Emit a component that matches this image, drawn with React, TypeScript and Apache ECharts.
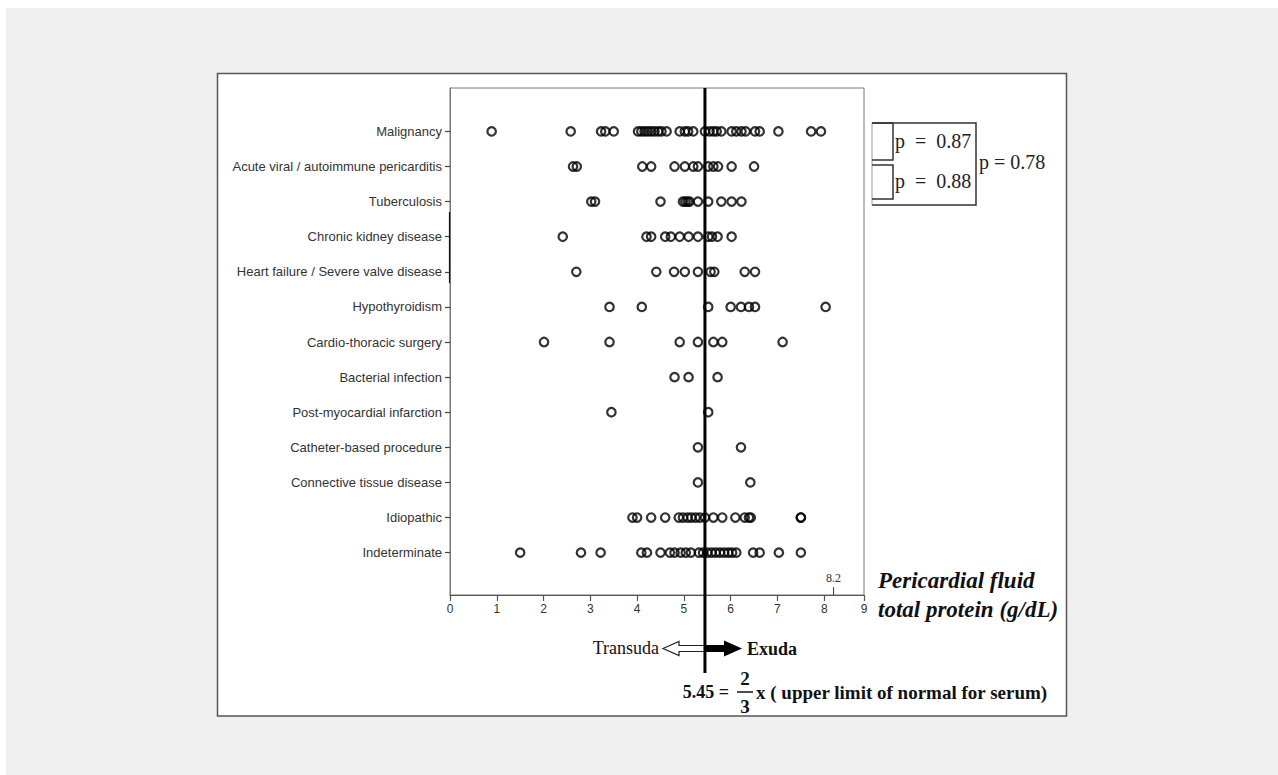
import React, { useEffect, useRef } from "react";
import * as echarts from "echarts";

const categories = [
  "Malignancy",
  "Acute viral / autoimmune pericarditis",
  "Tuberculosis",
  "Chronic kidney disease",
  "Heart failure / Severe valve disease",
  "Hypothyroidism",
  "Cardio-thoracic surgery",
  "Bacterial infection",
  "Post-myocardial infarction",
  "Catheter-based procedure",
  "Connective tissue disease",
  "Idiopathic",
  "Indeterminate",
];

const malignancy = [0.89, 2.58, 3.23, 3.32, 3.5, 4.02, 4.09, 4.16, 4.23, 4.3, 4.37, 4.45, 4.52, 4.63, 4.91, 5.02, 5.09, 5.2, 5.45, 5.55, 5.63, 5.7, 5.8, 6.02, 6.12, 6.23, 6.32, 6.52, 6.62, 7.02, 7.72, 7.93];
const acuteViral = [2.63, 2.71, 4.11, 4.3, 4.8, 5.02, 5.2, 5.3, 5.52, 5.63, 5.73, 6.02, 6.5];
const tuberculosis = [3.02, 3.1, 4.5, 4.98, 5.03, 5.08, 5.12, 5.3, 5.52, 5.8, 6.02, 6.23];
const chronicKidney = [2.41, 4.2, 4.3, 4.6, 4.72, 4.91, 5.1, 5.3, 5.52, 5.6, 5.72, 6.02];
const heartFailure = [2.7, 4.41, 4.79, 5.02, 5.3, 5.57, 5.65, 6.3, 6.52];
const hypothyroidism = [3.41, 4.1, 5.52, 6.0, 6.22, 6.39, 6.52, 8.03];
const cardioThoracic = [2.01, 3.41, 4.91, 5.3, 5.63, 5.82, 7.11];
const bacterial = [4.8, 5.1, 5.72];
const postMI = [3.45, 5.52];
const catheter = [5.3, 6.22];
const connective = [5.3, 6.42];
const idiopathic = [3.9, 4.0, 4.3, 4.6, 4.89, 4.98, 5.08, 5.16, 5.25, 5.34, 5.45, 5.63, 5.82, 6.1, 6.3, 6.39, 6.43, 7.5, 7.5];
const indeterminate = [1.5, 2.8, 3.22, 4.09, 4.21, 4.5, 4.7, 4.8, 4.93, 5.04, 5.15, 5.32, 5.41, 5.5, 5.59, 5.68, 5.77, 5.86, 5.95, 6.03, 6.12, 6.48, 6.62, 7.03, 7.5];

const seriesValues = [
  malignancy, acuteViral, tuberculosis, chronicKidney, heartFailure, hypothyroidism,
  cardioThoracic, bacterial, postMI, catheter, connective, idiopathic, indeterminate,
];

const xTickValues = [0, 1, 2, 3, 4, 5, 6, 7, 8, 8.85];
const xTickLabels = ["0", "1", "2", "3", "4", "5", "6", "7", "8", "9"];
const cutoff = 5.45;
const markValue = 8.2;
const pValues = ["p  =  0.87", "p  =  0.88", "p = 0.78"];

const SERIF = "'Liberation Serif', 'Times New Roman', serif";
const SANS = "'Liberation Sans', Arial, sans-serif";

export default function App() {
  const ref = useRef<HTMLDivElement>(null);
  useEffect(() => {
    const chart = echarts.init(ref.current!, null, { renderer: "svg" });
    const rowIdx = categories.map((_, i) => i);
    const data: number[][] = [];
    seriesValues.forEach((vals, i) => vals.forEach((v) => data.push([v, i])));

    chart.setOption({
      animation: false,
      backgroundColor: "#ffffff",
      textStyle: { color: "#333", fontFamily: SANS },
      grid: {
        left: 450, top: 88, right: 1278 - 864, bottom: 775 - 595,
        show: true, borderColor: "#777", borderWidth: 1, backgroundColor: "#fff",
      },
      xAxis: {
        type: "value", min: 0, max: 8.85, interval: 1,
        axisLine: { onZero: false, lineStyle: { color: "#555", width: 1.2 } },
        axisTick: { show: true, length: 6, customValues: xTickValues, lineStyle: { color: "#555", width: 1.2 } },
        axisLabel: {
          customValues: xTickValues, margin: 8, fontSize: 12, color: "#333", fontFamily: SANS,
          formatter: (v: number) => xTickLabels[xTickValues.indexOf(v)] ?? String(v),
        },
        splitLine: { show: false },
      },
      yAxis: {
        type: "value", inverse: true, min: -1.237, max: 13.207,
        axisLine: { show: true, onZero: false, lineStyle: { color: "#777", width: 1 } },
        axisTick: { show: true, length: 5, customValues: rowIdx, lineStyle: { color: "#444", width: 1.2 } },
        axisLabel: {
          customValues: rowIdx, margin: 8, fontSize: 13, color: "#333", fontFamily: SANS,
          formatter: (v: number) => categories[Math.round(v)] ?? "",
        },
        splitLine: { show: false },
      },
      series: [
        {
          type: "scatter",
          data,
          symbol: "circle",
          symbolSize: 8.5,
          itemStyle: { color: "rgba(0,0,0,0)", borderColor: "#000", borderWidth: 2.2 },
          z: 3,
        },
      ],
    });

    const px = (v: number) => chart.convertToPixel({ gridIndex: 0 }, [v, 0])[0];
    const xc = px(cutoff);
    const xm = px(markValue);
    const cy = 648.5;

    chart.setOption({
      graphic: [
        { type: "rect", z: -20, shape: { x: 6, y: 8, width: 1272, height: 767 }, style: { fill: "#f0f0f0" } },
        { type: "rect", z: -19, shape: { x: 217.5, y: 73.5, width: 849, height: 642.5 }, style: { fill: "#fff", stroke: "#555", lineWidth: 1.5 } },
        { type: "line", z: 10, shape: { x1: 449.5, y1: 212, x2: 449.5, y2: 283 }, style: { stroke: "#111", lineWidth: 1.2 } },
        { type: "line", z: 10, shape: { x1: xc, y1: 88, x2: xc, y2: 673 }, style: { stroke: "#000", lineWidth: 3 } },
        { type: "line", z: 10, shape: { x1: xm, y1: 595, x2: xm, y2: 587 }, style: { stroke: "#333", lineWidth: 1 } },
        { type: "text", z: 10, x: xm, y: 578, style: { text: "8.2", font: `12px ${SERIF}`, fill: "#333", align: "center", verticalAlign: "middle" } },
        { type: "text", z: 10, x: 878, y: 580, style: { text: "Pericardial fluid", font: `italic bold 23px ${SERIF}`, fill: "#111", align: "left", verticalAlign: "middle" } },
        { type: "text", z: 10, x: 878, y: 609, style: { text: "total protein (g/dL)", font: `italic bold 23px ${SERIF}`, fill: "#111", align: "left", verticalAlign: "middle" } },
        { type: "polyline", z: 10, shape: { points: [[872, 123], [976, 123], [976, 205], [872, 205]] }, style: { stroke: "#333", lineWidth: 1.5, fill: null } },
        { type: "line", z: 10, shape: { x1: 872, y1: 123, x2: 872, y2: 205 }, style: { stroke: "#999", lineWidth: 1 } },
        { type: "polyline", z: 10, shape: { points: [[872, 123], [893, 123], [893, 160], [872, 160]] }, style: { stroke: "#333", lineWidth: 1.5, fill: null } },
        { type: "polyline", z: 10, shape: { points: [[872, 165], [893, 165], [893, 199], [872, 199]] }, style: { stroke: "#333", lineWidth: 1.5, fill: null } },
        { type: "text", z: 10, x: 895, y: 141, style: { text: pValues[0], font: `20px ${SERIF}`, fill: "#222", align: "left", verticalAlign: "middle" } },
        { type: "text", z: 10, x: 895, y: 181, style: { text: pValues[1], font: `20px ${SERIF}`, fill: "#222", align: "left", verticalAlign: "middle" } },
        { type: "text", z: 10, x: 979, y: 162, style: { text: pValues[2], font: `20px ${SERIF}`, fill: "#222", align: "left", verticalAlign: "middle" } },
        {
          type: "polygon", z: 9,
          shape: { points: [[663, cy], [679, cy - 7], [679, cy - 3], [xc, cy - 3], [xc, cy + 3], [679, cy + 3], [679, cy + 7]] },
          style: { fill: "#fff", stroke: "#222", lineWidth: 1.2 },
        },
        {
          type: "polygon", z: 11,
          shape: { points: [[xc, cy - 3.5], [724, cy - 3.5], [724, cy - 8], [742, cy], [724, cy + 8], [724, cy + 3.5], [xc, cy + 3.5]] },
          style: { fill: "#000" },
        },
        { type: "text", z: 10, x: 659, y: cy - 1, style: { text: "Transuda", font: `18px ${SERIF}`, fill: "#111", align: "right", verticalAlign: "middle" } },
        { type: "text", z: 10, x: 747, y: cy, style: { text: "Exuda", font: `bold 18px ${SERIF}`, fill: "#111", align: "left", verticalAlign: "middle" } },
        { type: "text", z: 10, x: 729, y: 692, style: { text: "5.45 =", font: `bold 18px ${SERIF}`, fill: "#111", align: "right", verticalAlign: "middle" } },
        { type: "text", z: 10, x: 745, y: 678, style: { text: "2", font: `bold 19px ${SERIF}`, fill: "#111", align: "center", verticalAlign: "middle" } },
        { type: "line", z: 10, shape: { x1: 737, y1: 692, x2: 753, y2: 692 }, style: { stroke: "#111", lineWidth: 1.5 } },
        { type: "text", z: 10, x: 745, y: 706, style: { text: "3", font: `bold 19px ${SERIF}`, fill: "#111", align: "center", verticalAlign: "middle" } },
        { type: "text", z: 10, x: 756, y: 692, style: { text: "x ( upper limit of normal for serum)", font: `bold 19px ${SERIF}`, fill: "#111", align: "left", verticalAlign: "middle" } },
      ],
    });

    return () => chart.dispose();
  }, []);
  return <div ref={ref} style={{ position: "fixed", left: 0, top: 0, width: 1278, height: 775 }} />;
}
